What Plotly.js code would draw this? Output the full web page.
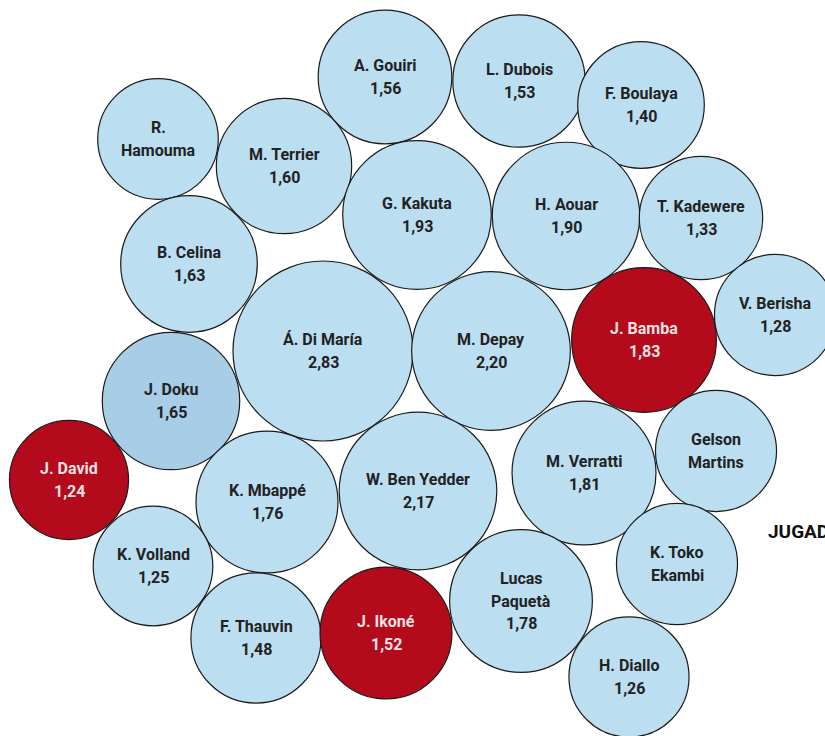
<!DOCTYPE html>
<html>
<head>
<meta charset="utf-8">
<script src="https://cdn.plot.ly/plotly-3.0.1.min.js"></script>
<style>html,body{margin:0;padding:0;background:#fff;}#chart{width:825px;height:736px;}</style>
</head>
<body>
<div id="chart"></div>
<script>
// Player names (line breaks as displayed in bubble)
var names = ["A. Gouiri","L. Dubois","F. Boulaya","R.<br>Hamouma","M. Terrier","G. Kakuta","H. Aouar","T. Kadewere",
  "B. Celina","Á. Di María","M. Depay","J. Bamba","V. Berisha","J. Doku","J. David","K. Mbappé","W. Ben Yedder",
  "M. Verratti","Gelson<br>Martins","K. Volland","K. Toko<br>Ekambi","Lucas<br>Paquetà","F. Thauvin","J. Ikoné","H. Diallo"];
// Values (bubble area)
var values = [1.56,1.53,1.40,1.27,1.60,1.93,1.90,1.33,
  1.63,2.83,2.20,1.83,1.28,1.65,1.24,1.76,2.17,
  1.81,1.28,1.25,1.28,1.78,1.48,1.52,1.26];
// Whether the value is printed in the bubble
var showValue = [1,1,1,0,1,1,1,1, 1,1,1,1,1,1,1,1,1, 1,0,1,0,1,1,1,1];
// Packed-layout positions of bubble centres
var xPos = [385,519,641,158,284,417,566,701, 189,323,491,644,775,171,69,267,418, 584,716,153,677,521,256,386,629];
var yPos = [77,81,105,139,166,215,216,218, 264,351,351,340,315,401,480,502,491, 473,451,566,564,601,638,633,677];
// Category: 0 = default, 1 = highlighted (red), 2 = Doku (darker blue)
var group = [0,0,0,0,0,0,0,0, 0,0,0,1,0,2,1,0,0, 0,0,0,0,0,0,1,0];

var fill = ["#bcdef1", "#b30a1c", "#a7cde7"];
var txtCol = ["#222222", "#f3e2e2", "#222222"];

var bubbles = {
  type: "scatter",
  mode: "markers",
  x: xPos,
  y: yPos,
  marker: {
    size: values,
    sizemode: "area",
    sizeref: 1/5724,
    color: group.map(function(g){return fill[g];}),
    opacity: 1,
    line: {color: "#1a1a1a", width: 1.2}
  },
  hoverinfo: "skip",
  cliponaxis: true
};

// one annotation per text line, spaced 22px apart, centred on the bubble
var annotations = [];
names.forEach(function(n, i){
  var lines = n.split("<br>");
  if (showValue[i]) lines.push(values[i].toFixed(2).replace(".", ","));
  var k = lines.length;
  lines.forEach(function(t, j){
    annotations.push({
      text: "<b>" + t + "</b>", x: xPos[i], y: yPos[i], xref: "x", yref: "y",
      xanchor: "center", yanchor: "middle", showarrow: false,
      yshift: ((k - 1) / 2 - j) * 22.5,
      font: {family: "Roboto, 'DejaVu Sans', sans-serif", size: 16, color: txtCol[group[i]]}
    });
  });
});
annotations.push({
  text: "<b>JUGADORES</b>", x: 766, y: 531, xref: "x", yref: "y",
  xanchor: "left", yanchor: "middle", showarrow: false,
  font: {family: "Roboto, sans-serif", size: 19, color: "#111111"}
});

var layout = {
  width: 825, height: 736,
  margin: {l:0, r:0, t:0, b:0},
  paper_bgcolor: "#ffffff", plot_bgcolor: "#ffffff",
  showlegend: false,
  xaxis: {range: [0, 825], visible: false, fixedrange: true},
  yaxis: {range: [736, 0], visible: false, fixedrange: true},
  annotations: annotations
};

Plotly.newPlot("chart", [bubbles], layout, {displayModeBar: false, staticPlot: true});
</script>
</body>
</html>
